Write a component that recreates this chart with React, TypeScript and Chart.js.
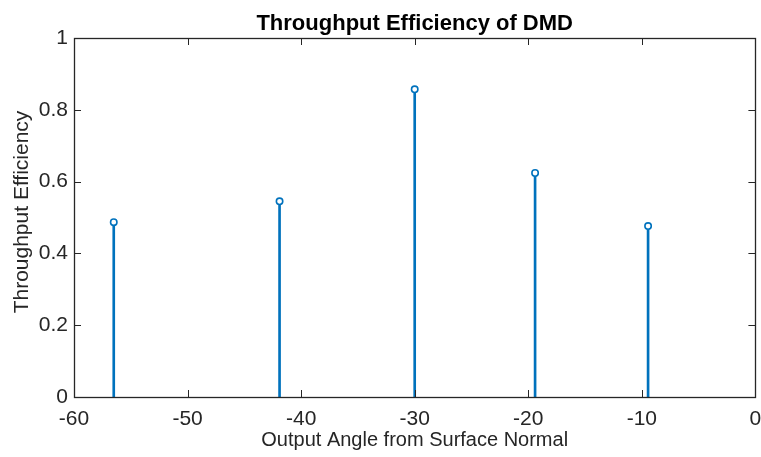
import React, { useEffect, useRef } from "react";
import { Chart, registerables } from "chart.js";

Chart.register(...registerables);

const angles = [-56.5, -41.9, -30.0, -19.4, -9.45];
const efficiency = [0.487, 0.545, 0.857, 0.624, 0.476];
const xTicks = [-60, -50, -40, -30, -20, -10, 0];
const yTicks = [0, 0.2, 0.4, 0.6, 0.8, 1];
const titleText = "Throughput Efficiency of DMD";
const xLabel = "Output Angle from Surface Normal";
const yLabel = "Throughput Efficiency";

const AXIS = "#262626";
const BLUE = "#0072BD";
const FONT = "'Liberation Sans', Arial, Helvetica, sans-serif";

const boxPlugin = {
  id: "matlabBox",
  afterDraw(chart: any) {
    const { ctx, chartArea: a, scales } = chart;
    const x = scales.x;
    const y = scales.y;
    ctx.save();
    ctx.strokeStyle = AXIS;
    ctx.lineWidth = 1;
    const tl = 7;
    ctx.beginPath();
    xTicks.forEach((v) => {
      const px = Math.round(x.getPixelForValue(v)) + 0.5;
      ctx.moveTo(px, a.bottom);
      ctx.lineTo(px, a.bottom - tl);
      ctx.moveTo(px, a.top);
      ctx.lineTo(px, a.top + tl);
    });
    yTicks.forEach((v) => {
      const py = Math.round(y.getPixelForValue(v)) + 0.5;
      ctx.moveTo(a.left, py);
      ctx.lineTo(a.left + tl, py);
      ctx.moveTo(a.right, py);
      ctx.lineTo(a.right - tl, py);
    });
    ctx.stroke();
    ctx.lineWidth = 1.3;
    ctx.strokeRect(Math.round(a.left) + 0.5, Math.round(a.top) + 0.5, Math.round(a.right - a.left), Math.round(a.bottom - a.top));
    // title
    ctx.fillStyle = "#000000";
    ctx.font = `bold 22px ${FONT}`;
    ctx.textAlign = "center";
    ctx.textBaseline = "alphabetic";
    ctx.fillText(titleText, (a.left + a.right) / 2, 30);
    // y label
    ctx.fillStyle = AXIS;
    ctx.font = `21px ${FONT}`;
    ctx.translate(22, 212);
    ctx.rotate(-Math.PI / 2);
    ctx.textBaseline = "middle";
    ctx.fillText(yLabel, 0, 0);
    ctx.restore();
  },
};

export default function App() {
  const ref = useRef<HTMLCanvasElement | null>(null);
  useEffect(() => {
    document.body.style.margin = "0";
    const canvas = ref.current!;
    const chart = new Chart(canvas, {
      type: "bar",
      data: {
        datasets: [
          {
            type: "line",
            data: angles.map((a, i) => ({ x: a, y: efficiency[i] })),
            showLine: false,
            pointRadius: 3.2,
            pointBorderWidth: 1.6,
            pointBorderColor: BLUE,
            pointBackgroundColor: "#ffffff",
            order: 0,
          } as any,
          {
            type: "bar",
            data: angles.map((a, i) => ({ x: a, y: efficiency[i] })),
            backgroundColor: BLUE,
            borderWidth: 0,
            barThickness: 2,
            order: 1,
          } as any,
        ],
      },
      options: {
        animation: false,
        responsive: false,
        devicePixelRatio: 1,
        layout: { padding: { left: 0, right: 5, top: 38, bottom: 0 } },
        plugins: {
          legend: { display: false },
          tooltip: { enabled: false },
          title: { display: false },
        },
        scales: {
          x: {
            type: "linear",
            offset: false,
            min: -60,
            max: 0,
            grid: { display: false, drawTicks: false, offset: false },
            border: { display: false },
            afterBuildTicks: (s: any) => {
              s.ticks = xTicks.map((v) => ({ value: v }));
            },
            ticks: {
              color: AXIS,
              font: { family: FONT, size: 21 },
              padding: 10,
              maxRotation: 0,
              autoSkip: false,
              callback: (v: any) => String(v),
            },
            title: {
              display: true,
              text: xLabel,
              color: AXIS,
              font: { family: FONT, size: 20 },
              padding: { top: 0, bottom: 4.5 },
            },
            afterFit: (s: any) => {
              s.height = 60;
              s.paddingLeft = 0;
              s.paddingRight = 0;
            },
          },
          y: {
            type: "linear",
            min: 0,
            max: 1,
            grid: { display: false, drawTicks: false },
            border: { display: false },
            afterBuildTicks: (s: any) => {
              s.ticks = yTicks.map((v) => ({ value: v }));
            },
            ticks: {
              color: AXIS,
              font: { family: FONT, size: 21 },
              padding: 6,
              autoSkip: false,
              callback: (v: any) => String(v),
            },
            title: { display: false },
            afterFit: (s: any) => {
              s.width = 74;
              s.paddingTop = 0;
              s.paddingBottom = 0;
            },
          },
        },
      },
      plugins: [boxPlugin],
    });
    return () => chart.destroy();
  }, []);
  return (
    <div style={{ position: "absolute", left: 0, top: 0, width: 761, height: 457, background: "#fff" }}>
      <canvas ref={ref} width={761} height={457} style={{ width: 761, height: 457 }} />
    </div>
  );
}
